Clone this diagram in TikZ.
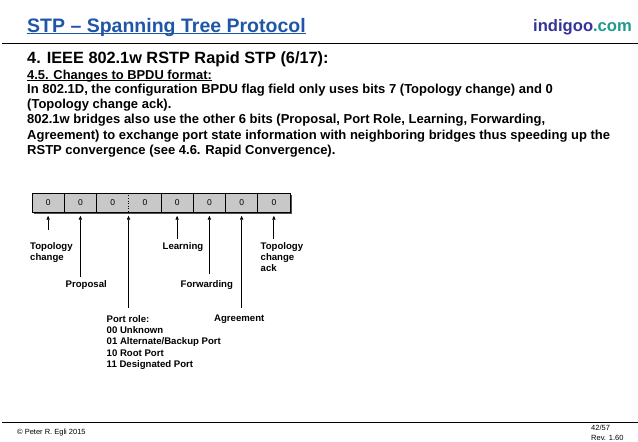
\documentclass[tikz,border=0pt]{standalone}
\usepackage{fontspec}
\setmainfont{Liberation Sans}
\usetikzlibrary{arrows.meta}
\definecolor{titleblue}{HTML}{1F56A8}
\definecolor{indigoc}{HTML}{33339A}
\definecolor{tealc}{HTML}{1E9A8C}
\definecolor{cellgray}{HTML}{C8C8C8}
\definecolor{shadowgray}{HTML}{505050}
\begin{document}
\begin{tikzpicture}[x=1pt,y=-1pt,
  txt/.style={inner sep=0pt, anchor=base west},
  body/.style={inner sep=0pt, anchor=base west, font=\bfseries\fontsize{13}{13}\selectfont},
  lbl/.style={inner sep=0pt, anchor=north west, align=left, font=\bfseries\fontsize{9.6}{11.3}\selectfont},
  cell/.style={minimum width=32.25pt, minimum height=19pt, inner sep=0pt, fill=cellgray, font=\fontsize{8.5}{8.5}\selectfont},
  arr/.style={-{Triangle[length=4pt,width=3.2pt]}, line width=0.8pt, shorten >=3.5pt}]
\useasboundingbox (0,0) rectangle (638,442);
% header
\node[txt, text=titleblue, font=\bfseries\fontsize{19.5}{20}\selectfont] (title) at (27,32) {STP – Spanning Tree Protocol};
\draw[titleblue, line width=1.3pt] ([yshift=-1.8pt]title.base west) -- ([yshift=-1.8pt]title.base east);
\node[txt, font=\bfseries\fontsize{16.6}{16.6}\selectfont] (logo) at (533,31) {\textcolor{indigoc}{indigoo}\textcolor{tealc}{.com}};
\coordinate (hl) at (2,43.5); \coordinate (hr) at (638,43.5);
\draw[line width=0.9pt] (hl) -- (hr);
% heading and body
\node[txt, font=\bfseries\fontsize{16.3}{17}\selectfont] (head) at (27,63.3) {4. IEEE 802.1w RSTP Rapid STP (6/17):};
\node[txt, font=\bfseries\fontsize{12.9}{13}\selectfont] (sub) at (27,79) {4.5. Changes to BPDU format:};
\draw[line width=0.7pt] ([yshift=-1.4pt]sub.base west) -- ([yshift=-1.4pt]sub.base east);
\node[body] (b1) at (27,93.5) {In 802.1D, the configuration BPDU flag field only uses bits 7 (Topology change) and 0};
\node[body] (b2) at (27,108.7) {(Topology change ack).};
\node[body] (b3) at (27,123.9) {802.1w bridges also use the other 6 bits (Proposal, Port Role, Learning, Forwarding,};
\node[body] (b4) at (27,139.1) {Agreement) to exchange port state information with neighboring bridges thus speeding up the};
\node[body] (b5) at (27,154.3) {RSTP convergence (see 4.6. Rapid Convergence).};
% flag field
\fill[shadowgray] (33.5,194.5) rectangle (291.5,213.8);
\foreach \i in {0,...,7} {
  \node[cell] (c\i) at (32+32.25*\i+16.125,202.5) {0};
}
\draw[line width=0.6pt] (c0.north west) rectangle (c7.south east);
\foreach \i in {1,2,4,5,6,7} { \draw[line width=0.6pt] (c\i.north west) -- (c\i.south west); }
\draw[line width=0.6pt, dotted] (c3.north west) -- (c3.south west);
% labels
\node[lbl] (ltc) at (30,242) {Topology\\change};
\node[lbl] (llearn) at (162.5,242) {Learning};
\node[lbl] (ltca) at (260.5,242) {Topology\\change\\ack};
\node[lbl] (lprop) at (65.5,280) {Proposal};
\node[lbl] (lfwd) at (180.5,280) {Forwarding};
\node[lbl] (lport) at (106.5,315) {Port role:\\00 Unknown\\01 Alternate/Backup Port\\10 Root Port\\11 Designated Port};
\node[lbl] (lagr) at (214,315) {Agreement};
% arrow ends
\coordinate (etc) at (c0.south |- 0,230);
\coordinate (eprop) at (c1.south |- 0,277);
\coordinate (eport) at (c3.south west |- 0,308);
\coordinate (elearn) at (c4.south |- 0,239);
\coordinate (efwd) at (c5.south |- 0,274);
\coordinate (eagr) at (c6.south |- 0,308);
\coordinate (etca) at (c7.south |- 0,239);
\draw[arr] (etc) -- (c0.south);
\draw[arr] (eprop) -- (c1.south);
\draw[arr] (eport) -- (c3.south west);
\draw[arr] (elearn) -- (c4.south);
\draw[arr] (efwd) -- (c5.south);
\draw[arr] (eagr) -- (c6.south);
\draw[arr] (etca) -- (c7.south);
% footer
\coordinate (fl) at (2,422); \coordinate (fr) at (638,422);
\draw[line width=0.9pt] (fl) -- (fr);
\node[txt, font=\fontsize{7.5}{7.5}\selectfont] (copy) at (17,434) {© Peter R. Egli 2015};
\node[inner sep=0pt, anchor=base west, font=\fontsize{7.5}{7.5}\selectfont] (pg) at (591,430.5) {42/57};
\node[inner sep=0pt, anchor=base west, font=\fontsize{7.5}{7.5}\selectfont] (rev) at (591,440) {Rev. 1.60};
\end{tikzpicture}
\end{document}
